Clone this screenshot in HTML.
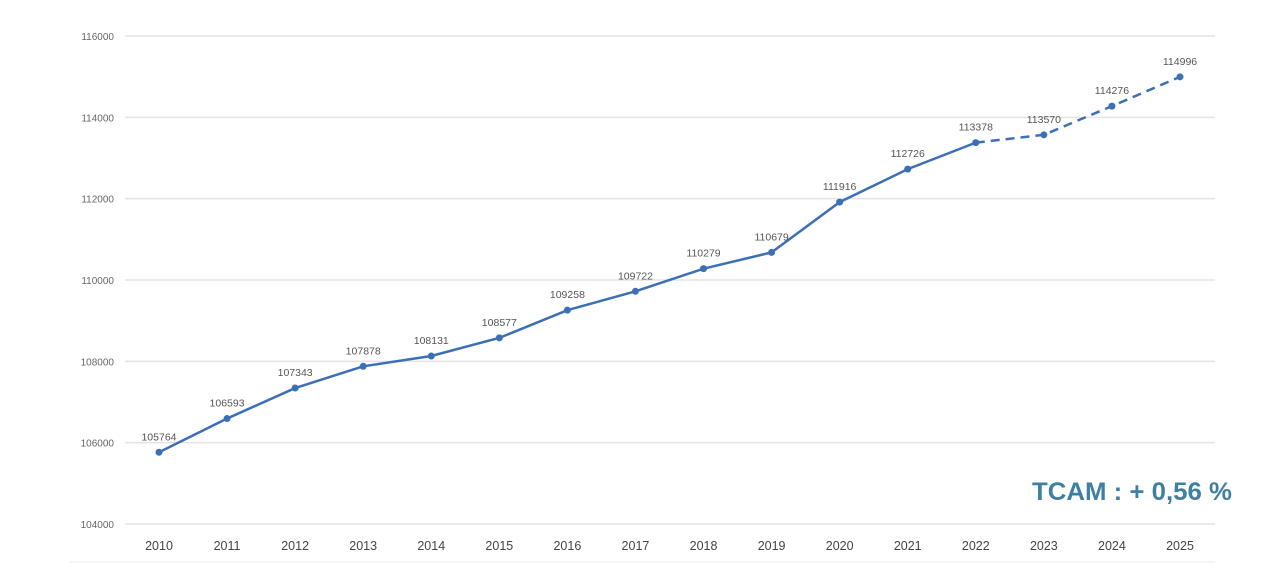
<!DOCTYPE html>
<html><head><meta charset="utf-8"><style>
body{margin:0;background:#fff;width:1280px;height:580px;overflow:hidden;font-family:"Liberation Sans",sans-serif}
svg{display:block}
</style></head><body>
<svg id="chart" width="1280" height="580" xmlns="http://www.w3.org/2000/svg">
<line x1="70" y1="562" x2="1215" y2="562" stroke="#eee" stroke-width="1"/>
<text x="1232" y="500" text-anchor="end" font-size="25" font-weight="bold" fill="#3f7fa3" font-family="Liberation Sans Narrow, Liberation Sans, sans-serif" textLength="200" lengthAdjust="spacingAndGlyphs">TCAM : + 0,56 %</text>
</svg>
<script>
const years=["2010","2011","2012","2013","2014","2015","2016","2017","2018","2019","2020","2021","2022","2023","2024","2025"];
const values=[105764,106593,107343,107878,108131,108577,109258,109722,110279,110679,111916,112726,113378,113570,114276,114996];
const yTicks=[104000,106000,108000,110000,112000,114000,116000];
const lastActual=12;
const svg=document.getElementById('chart');
const NS='http://www.w3.org/2000/svg';
const x=i=>159+i*(1180-159)/15;
const y=v=>524-(v-104000)*(488/12000);
function mk(t,a){const e=document.createElementNS(NS,t);for(const k in a)e.setAttribute(k,a[k]);svg.appendChild(e);return e;}
yTicks.forEach(v=>{
  const l=mk('line',{x1:125,x2:1215,y1:y(v),y2:y(v),stroke:'#e3e3e3','stroke-width':1.5});
  
  
  const t=mk('text',{x:114,y:y(v)+4,'text-anchor':'end','font-size':10,fill:'#666'});
  t.textContent=v;
  
  
});
years.forEach((yr,i)=>{
  const t=mk('text',{x:x(i),y:550,'text-anchor':'middle','font-size':12.5,fill:'#444'});
  t.textContent=yr;
  
  
});
let d1='',d2='';
values.forEach((v,i)=>{
  if(i<=lastActual)d1+=(i?'L':'M')+x(i)+' '+y(v);
  if(i>=lastActual)d2+=(i>lastActual?'L':'M')+x(i)+' '+y(v);
});
const p1=mk('path',{d:d1,fill:'none',stroke:'#3c6fb5','stroke-width':2.5});


const p2=mk('path',{d:d2,fill:'none',stroke:'#3c6fb5','stroke-width':2.5,'stroke-dasharray':'9 6'});


values.forEach((v,i)=>{
  const c=mk('circle',{cx:x(i),cy:y(v),r:3.5,fill:'#3c6fb5'});
  
  
  const t=mk('text',{x:x(i),y:y(v)-12,'text-anchor':'middle','font-size':10.5,fill:'#555'});
  t.textContent=v;
  
  
});
</script>
</body></html>
